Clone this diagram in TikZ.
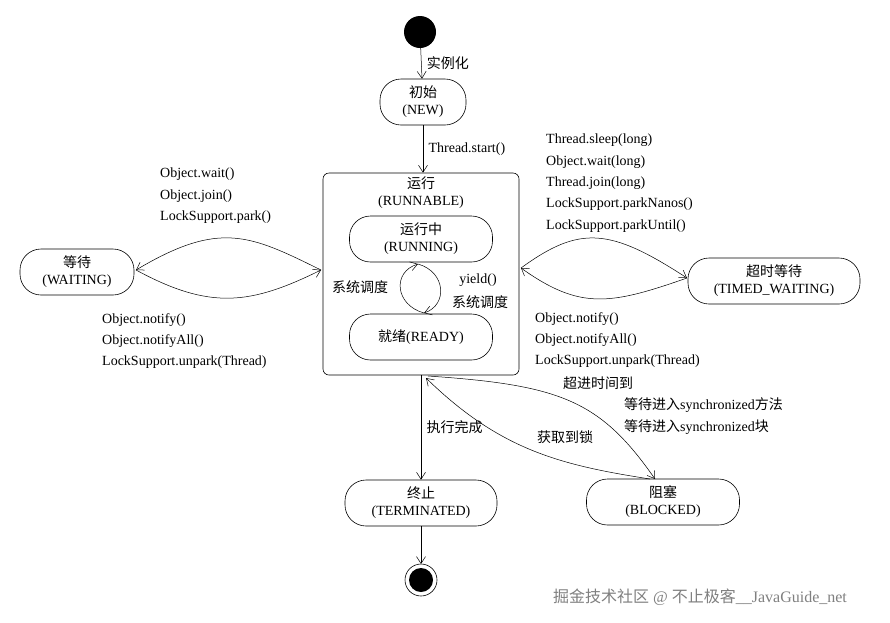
\documentclass[tikz,border=0pt]{standalone}
\usepackage{fontspec}
\setmainfont{Liberation Serif}
\newfontfamily\cjk{Noto Sans CJK SC}
\newcommand{\zh}[1]{{\cjk #1}}
\usetikzlibrary{arrows.meta}
\begin{document}
\begin{tikzpicture}[x=1pt,y=-1pt,
  every node/.style={font=\fontsize{14}{17}\selectfont},
  st/.style={draw,rounded corners=21pt,minimum height=46pt,align=center,inner sep=2pt,line width=0.6pt},
  ar/.style={-{Straight Barb[length=7pt,width=9pt]},line width=0.5pt},
  lb/.style={align=left,anchor=north west,inner sep=0pt,font=\fontsize{14}{21.3}\selectfont}]
\useasboundingbox (0,0) rectangle (890,622);
\fill[white] (0,0) rectangle (890,622);
\node[circle,fill,minimum size=32pt,inner sep=0] (s) at (420,32) {};
\node[st,minimum width=86pt] (new) at (423,102) {\zh{初始}\\(NEW)};
\draw[ar] (s) -- (new) node[midway,right,xshift=2pt] {\zh{实例化}};
\node[draw,rounded corners=6pt,minimum width=196pt,minimum height=202pt,line width=0.6pt] (rb) at (421,274) {};
\node[align=center] at (421,193) {\zh{运行}\\(RUNNABLE)};
\draw[ar] (new) -- (rb.north -| new) node[midway,right,xshift=2pt] {Thread.start()};
\node[st,minimum width=143pt] (run) at (421,239) {\zh{运行中}\\(RUNNING)};
\node[st,minimum width=143pt] (rdy) at (421,337) {\zh{就绪}(READY)};
\coordinate (rt) at (418,264); \coordinate (rbt) at (424,313);
\draw[ar] (rbt) .. controls (395,305) and (392,272) .. (rt);
\draw[ar] (rt) .. controls (446,272) and (448,305) .. (rbt);
\node at (360,287) {\zh{系统调度}};
\node at (478,280) {yield()};
\node at (480,302) {\zh{系统调度}};
\node[st,minimum width=114pt] (w) at (77,272) {\zh{等待}\\(WAITING)};
\coordinate (wl) at (136,270); \coordinate (wr) at (321,270);
\draw[ar] (wr) .. controls (250,235) and (220,220) .. (wl);
\draw[ar] (wl) .. controls (210,310) and (250,305) .. (wr);
\node[lb] at (160,168) {Object.wait()\\Object.join()\\LockSupport.park()};
\node[lb] at (102,313) {Object.notify()\\Object.notifyAll()\\LockSupport.unpark(Thread)};
\node[st,minimum width=172pt] (tw) at (774,281) {\zh{超时等待}\\(TIMED\_WAITING)};
\coordinate (tl) at (521,268); \coordinate (tr) at (687,278);
\draw[ar] (tl) .. controls (580,225) and (610,228) .. (tr);
\draw[ar] (tr) .. controls (610,305) and (580,310) .. (tl);
\node[lb] at (546,134) {Thread.sleep(long)\\Object.wait(long)\\Thread.join(long)\\LockSupport.parkNanos()\\LockSupport.parkUntil()};
\node[lb] at (535,312) {Object.notify()\\Object.notifyAll()\\LockSupport.unpark(Thread)};
\node[st,minimum width=152pt] (t) at (421,503) {\zh{终止}\\(TERMINATED)};
\draw[ar] (rb.south) -- (t) node[midway,right,xshift=2pt] {\zh{执行完成}};
\node[circle,fill,minimum size=24pt,inner sep=0] (e) at (421,580) {};
\draw[line width=0.6pt] (e) circle (16pt);
\draw[ar] (t) -- (421,564);
\node[st,minimum width=153pt] (b) at (663,502) {\zh{阻塞}\\(BLOCKED)};
\coordinate (ra) at (428,376); \coordinate (bt) at (655,479);
\draw[ar] (ra) .. controls (560,385) and (600,400) .. (bt);
\draw[ar] (650,479) .. controls (560,465) and (500,450) .. (426,378);
\node at (598,383) {\zh{超进时间到}};
\node[lb,font=\fontsize{14}{22}\selectfont] at (624,397) {\zh{等待进入}synchronized\zh{方法}\\\zh{等待进入}synchronized\zh{块}};
\node at (565,437) {\zh{获取到锁}};
\node[text=gray,font=\fontsize{16}{18}\selectfont] at (700,597) {\zh{掘金技术社区} @ \zh{不止极客}\_\_JavaGuide\_net};
\end{tikzpicture}
\end{document}
